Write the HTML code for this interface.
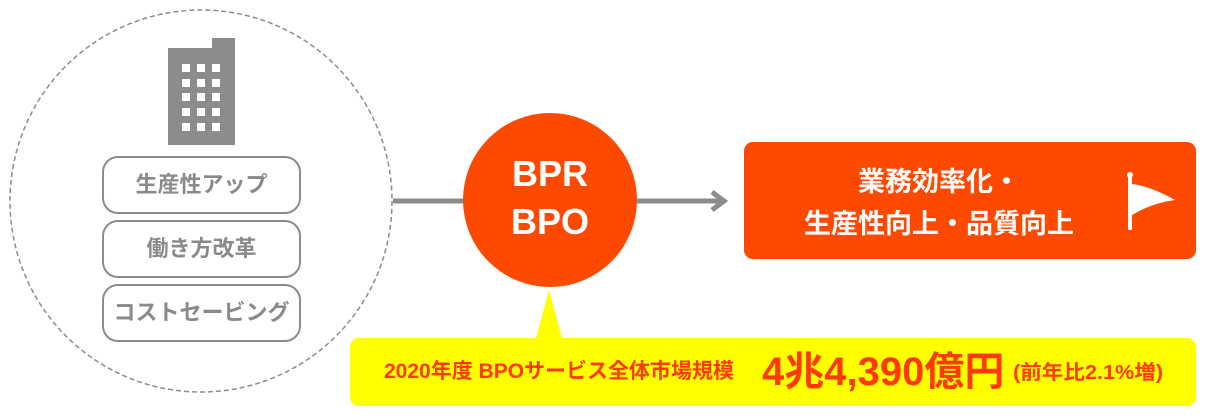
<!DOCTYPE html>
<html><head><meta charset="utf-8"><style>
body{margin:0;width:1210px;height:417px;background:#fff;position:relative;overflow:hidden;font-family:"Liberation Sans","Noto Sans CJK JP",sans-serif}
.a{position:absolute}
.pill{position:absolute;left:102px;width:195px;height:54px;border:2px solid #8c8c8c;border-radius:16px;color:#8a8a8a;font-size:22px;font-weight:bold;text-align:center;line-height:54px;letter-spacing:0px}
</style></head><body>
<svg class="a" style="left:0;top:0" width="1210" height="417">
<circle cx="201" cy="201" r="191" fill="none" stroke="#8c8c8c" stroke-width="1.5" stroke-dasharray="5,3"/>
<rect x="168" y="48" width="67" height="97" fill="#8c8c8c"/>
<rect x="212" y="38" width="23" height="12" fill="#8c8c8c"/>
<g fill="#fff">
<rect x="182" y="64" width="8" height="8"/><rect x="197" y="64" width="8" height="8"/><rect x="212" y="64" width="8" height="8"/>
<rect x="182" y="79" width="8" height="8"/><rect x="197" y="79" width="8" height="8"/><rect x="212" y="79" width="8" height="8"/>
<rect x="182" y="93" width="8" height="8"/><rect x="197" y="93" width="8" height="8"/><rect x="212" y="93" width="8" height="8"/>
<rect x="182" y="108" width="8" height="8"/><rect x="197" y="108" width="8" height="8"/><rect x="212" y="108" width="8" height="8"/>
<rect x="182" y="123" width="8" height="8"/><rect x="197" y="123" width="8" height="8"/><rect x="212" y="123" width="8" height="8"/>
</g>
<line x1="393" y1="201" x2="470" y2="201" stroke="#8c8c8c" stroke-width="5"/>
<line x1="630" y1="201" x2="722" y2="201" stroke="#8c8c8c" stroke-width="5"/>
<polyline points="712,192 724,201 712,210" fill="none" stroke="#8c8c8c" stroke-width="5"/>
<polygon points="549,290 535,342 563,342" fill="#ffff00"/>
<circle cx="550" cy="200" r="87" fill="#fe4a00"/>
<rect x="744" y="142" width="452" height="117" rx="9" fill="#fe4a00"/>
<rect x="350" y="338" width="846" height="68" rx="9" fill="#ffff00"/>
<rect x="1128" y="176" width="4" height="54" fill="#fff"/>
<circle cx="1130" cy="175" r="3" fill="#fff"/>
<path d="M1132 184 Q1150 186 1175 200 Q1152 203 1132 215 Z" fill="#fff"/>
</svg>
<div class="pill" style="top:156px">生産性アップ</div>
<div class="pill" style="top:220px">働き方改革</div>
<div class="pill" style="top:284px">コストセービング</div>
<div class="a" style="left:463px;top:150px;width:174px;text-align:center;color:#fff;font-size:36px;font-weight:bold;line-height:48px">BPR<br>BPO</div>
<div class="a" style="left:744px;top:161px;width:390px;text-align:center;color:#fff;font-size:27px;font-weight:bold;line-height:42px">業務効率化・<br>生産性向上・品質向上</div>
<div class="a" style="left:384px;top:359px;color:#ff3a00;font-size:21px;font-weight:bold;white-space:nowrap;line-height:26px">2020年度 BPOサービス全体市場規模</div>
<div class="a" style="left:762px;top:349px;color:#ff3a00;font-size:40px;font-weight:bold;white-space:nowrap;line-height:46px">4兆4,390億円</div>
<div class="a" style="left:1013px;top:361px;color:#ff3a00;font-size:20px;font-weight:bold;white-space:nowrap;line-height:24px;transform:scaleX(1.08);transform-origin:left">(前年比2.1%増)</div>
</body></html>
